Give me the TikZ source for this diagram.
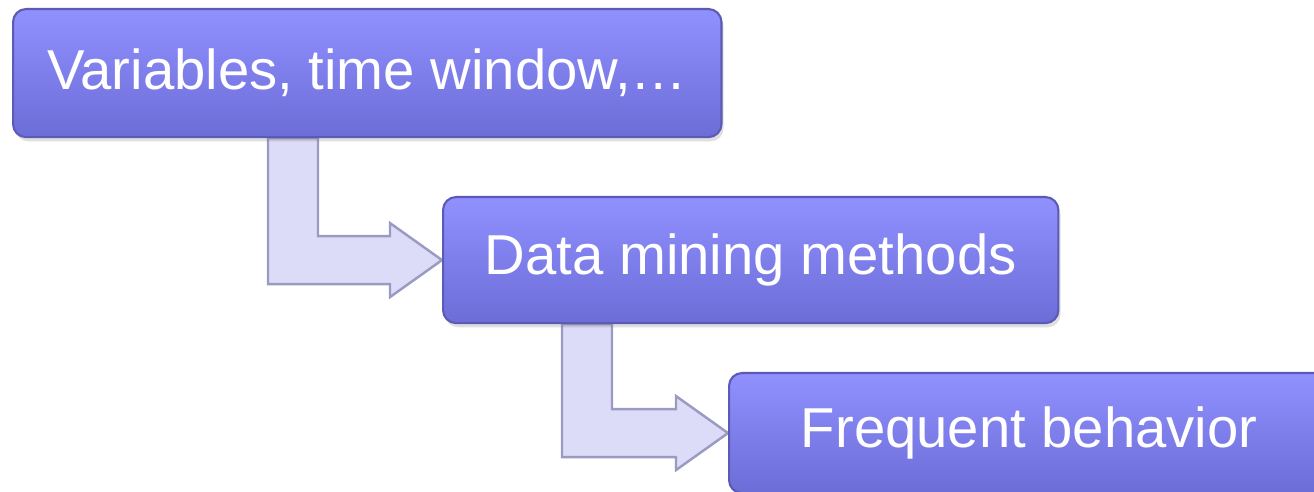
\documentclass[tikz,border=0pt]{standalone}
\usepackage{fontspec}
\setmainfont{Liberation Sans}
\usetikzlibrary{calc, backgrounds, shadows}
\definecolor{cBoxTop}{HTML}{9090FF}
\definecolor{cBoxBot}{HTML}{6D6DD8}
\definecolor{cBoxLine}{HTML}{5B5BB5}
\definecolor{cArrow}{HTML}{DCDCF8}
\definecolor{cArrowLine}{HTML}{9A9AC2}
\tikzset{
  stagebox/.style={
    draw=cBoxLine, line width=0.6pt,
    rounded corners=3.7pt,
    top color=cBoxTop, bottom color=cBoxBot,
    drop shadow={opacity=0.25, shadow xshift=0.6pt, shadow yshift=-1.2pt},
    text=white,
    inner sep=0pt,
    anchor=north west,
    font=\fontsize{16}{18}\selectfont
  },
  bentline/.style={
    draw=cArrowLine, line width=0.7pt,
    fill=cArrow,
    line join=miter
  }
}
% bent block arrow: name, from, to, bar offset
\newcommand{\bentarrow}[4]{%
  \coordinate (#1in) at ($(#3.west)+(-#4+50,-24)$);
  \coordinate (#1out) at ($(#3.west)+(-#4,24)$);
  \draw[bentline] (#3.west) -- ++(-52,-37) -- ++(0,13) -- (#1in)
    -- (#1in |- #2.south) -- (#1out |- #2.south) -- (#1out)
    -- ++(#4-52,0) -- ++(0,13) -- cycle;
}

\begin{document}
\begin{tikzpicture}[x=0.01cm, y=-0.01cm]
  \clip (0,0) rectangle (1314,492);
  \useasboundingbox (0,0) rectangle (1314,492);

  \node[stagebox, minimum width=7.08cm, minimum height=1.28cm] (vars) at (12,8) {Variables, time window,\dots};
  \node[stagebox, minimum width=6.15cm, minimum height=1.26cm] (mining) at (442,196) {Data mining methods};
  \node[stagebox, minimum width=6.0cm, minimum height=1.2cm] (freq) at (728,372) {Frequent behavior};

  \begin{scope}[on background layer]
    \bentarrow{a}{vars}{mining}{174}
    \bentarrow{b}{mining}{freq}{166}
  \end{scope}
\end{tikzpicture}
\end{document}
